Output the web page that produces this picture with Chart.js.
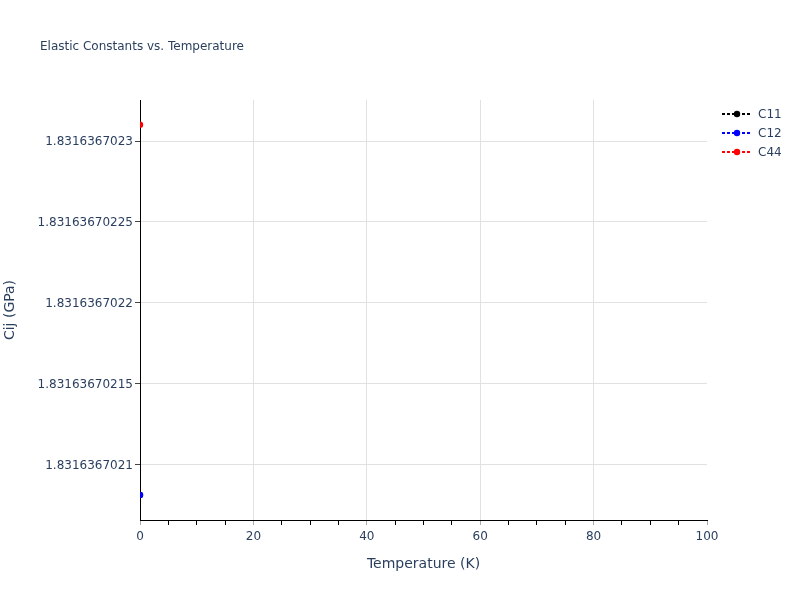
<!DOCTYPE html>
<html>
<head>
<meta charset="utf-8">
<script src="https://cdn.jsdelivr.net/npm/chart.js@4.4.1/dist/chart.umd.min.js"></script>
<style>
html,body{margin:0;padding:0;background:#fff;}
#wrap{width:800px;height:600px;position:relative;}
</style>
</head>
<body>
<div id="wrap"><canvas id="c" width="800" height="600"></canvas></div>
<script>
// ---- data ----
const chartTitle = "Elastic Constants vs. Temperature";
const temperatures = [0];
const c11 = [1.8316367020811];
const c12 = [1.8316367020811];
const c44 = [1.8316367023101];
const seriesNames = ["C11", "C12", "C44"];
const seriesColors = ["#000000", "#0000ff", "#ff0000"];
const yTickValues = [1.8316367021, 1.83163670215, 1.8316367022, 1.83163670225, 1.8316367023];
const yTickLabels = ["1.8316367021", "1.83163670215", "1.8316367022", "1.83163670225", "1.8316367023"];
const yMin = 1.83163670206569;
const yMax = 1.83163670232535;
const xMin = 0, xMax = 100;
const xLabelStep = 20, xMinorStep = 5;
const xTitle = "Temperature (K)";
const yTitle = "Cij (GPa)";

const FONT = "'DejaVu Sans', Verdana, sans-serif";
const TXT = "#2a3f5f";

function pts(vals){ return temperatures.map((t,i)=>({x:t, y:vals[i]})); }
const seriesValues = [c11, c12, c44];

const datasets = seriesNames.map((n,i)=>({
  label: n,
  data: pts(seriesValues[i]),
  order: seriesNames.length - i,
  borderColor: seriesColors[i],
  backgroundColor: seriesColors[i],
  pointBackgroundColor: seriesColors[i],
  pointBorderColor: seriesColors[i],
  pointRadius: 3.2,
  pointBorderWidth: 0,
  borderWidth: 2,
  borderDash: [3,3],
  showLine: true,
  clip: 0
}));

const overlay = {
  id: 'overlay',
  afterDraw(chart){
    const ctx = chart.ctx;
    ctx.save();
    // title
    ctx.fillStyle = TXT;
    ctx.font = "12px " + FONT;
    ctx.textAlign = 'left';
    ctx.textBaseline = 'middle';
    ctx.fillText(chartTitle, 40, 47);
    // legend
    seriesNames.forEach((name,i)=>{
      const y = 114 + i*19;
      ctx.strokeStyle = seriesColors[i];
      ctx.lineWidth = 2;
      ctx.setLineDash([3,2]);
      ctx.beginPath(); ctx.moveTo(722, y); ctx.lineTo(752, y); ctx.stroke();
      ctx.setLineDash([]);
      ctx.fillStyle = seriesColors[i];
      ctx.beginPath(); ctx.arc(737, y, 3.2, 0, Math.PI*2); ctx.fill();
      ctx.fillStyle = TXT;
      ctx.font = "12px " + FONT;
      ctx.fillText(name, 758, y + 1);
    });
    ctx.restore();
  }
};

new Chart(document.getElementById('c'), {
  type: 'scatter',
  data: { datasets },
  options: {
    responsive: false,
    animation: false,
    devicePixelRatio: 1,
    layout: { padding: { top: 100, right: 93, left: 0, bottom: 0 } },
    plugins: { legend: { display: false }, title: { display: false }, tooltip: { enabled: false } },
    scales: {
      x: {
        type: 'linear',
        min: xMin, max: xMax,
        afterFit(s){ s.height = 80; },
        afterBuildTicks(s){
          const t = [];
          for (let v = xMin; v <= xMax; v += xMinorStep) t.push({value: v});
          s.ticks = t;
        },
        ticks: {
          autoSkip: false, maxRotation: 0,
          color: TXT, font: { family: FONT, size: 12 }, padding: 5,
          callback(v){ return (v % xLabelStep === 0) ? String(v) : ''; }
        },
        grid: {
          drawOnChartArea: true,
          tickLength: 5,
          color(c){ const v = c.tick ? c.tick.value : null; return (v !== null && v % xLabelStep === 0 && v !== xMin && v !== xMax) ? '#e1e1e1' : 'rgba(0,0,0,0)'; },
          tickColor(c){ const v = c.tick ? c.tick.value : null; return (v !== null && v % xLabelStep === 0) ? '#aaaaaa' : '#000000'; },
          lineWidth: 1
        },
        border: { display: true, color: '#000000', width: 1 },
        title: { display: true, text: xTitle, color: TXT, font: { family: FONT, size: 14 }, padding: { top: 0, bottom: 27 } }
      },
      y: {
        type: 'linear',
        min: yMin, max: yMax,
        afterFit(s){ s.width = 140; },
        afterBuildTicks(s){ s.ticks = yTickValues.map(v=>({value:v})); },
        ticks: {
          autoSkip: false, labelOffset: 1,
          color: TXT, font: { family: FONT, size: 12 }, padding: 2,
          callback(v, i){ return yTickLabels[i]; }
        },
        grid: { color: '#e1e1e1', tickColor: '#444444', tickLength: 5, lineWidth: 1 },
        border: { display: true, color: '#000000', width: 1 },
        title: { display: true, text: yTitle, color: TXT, font: { family: FONT, size: 14 }, padding: { top: 2, bottom: 0 } }
      }
    }
  },
  plugins: [overlay]
});
</script>
</body>
</html>
